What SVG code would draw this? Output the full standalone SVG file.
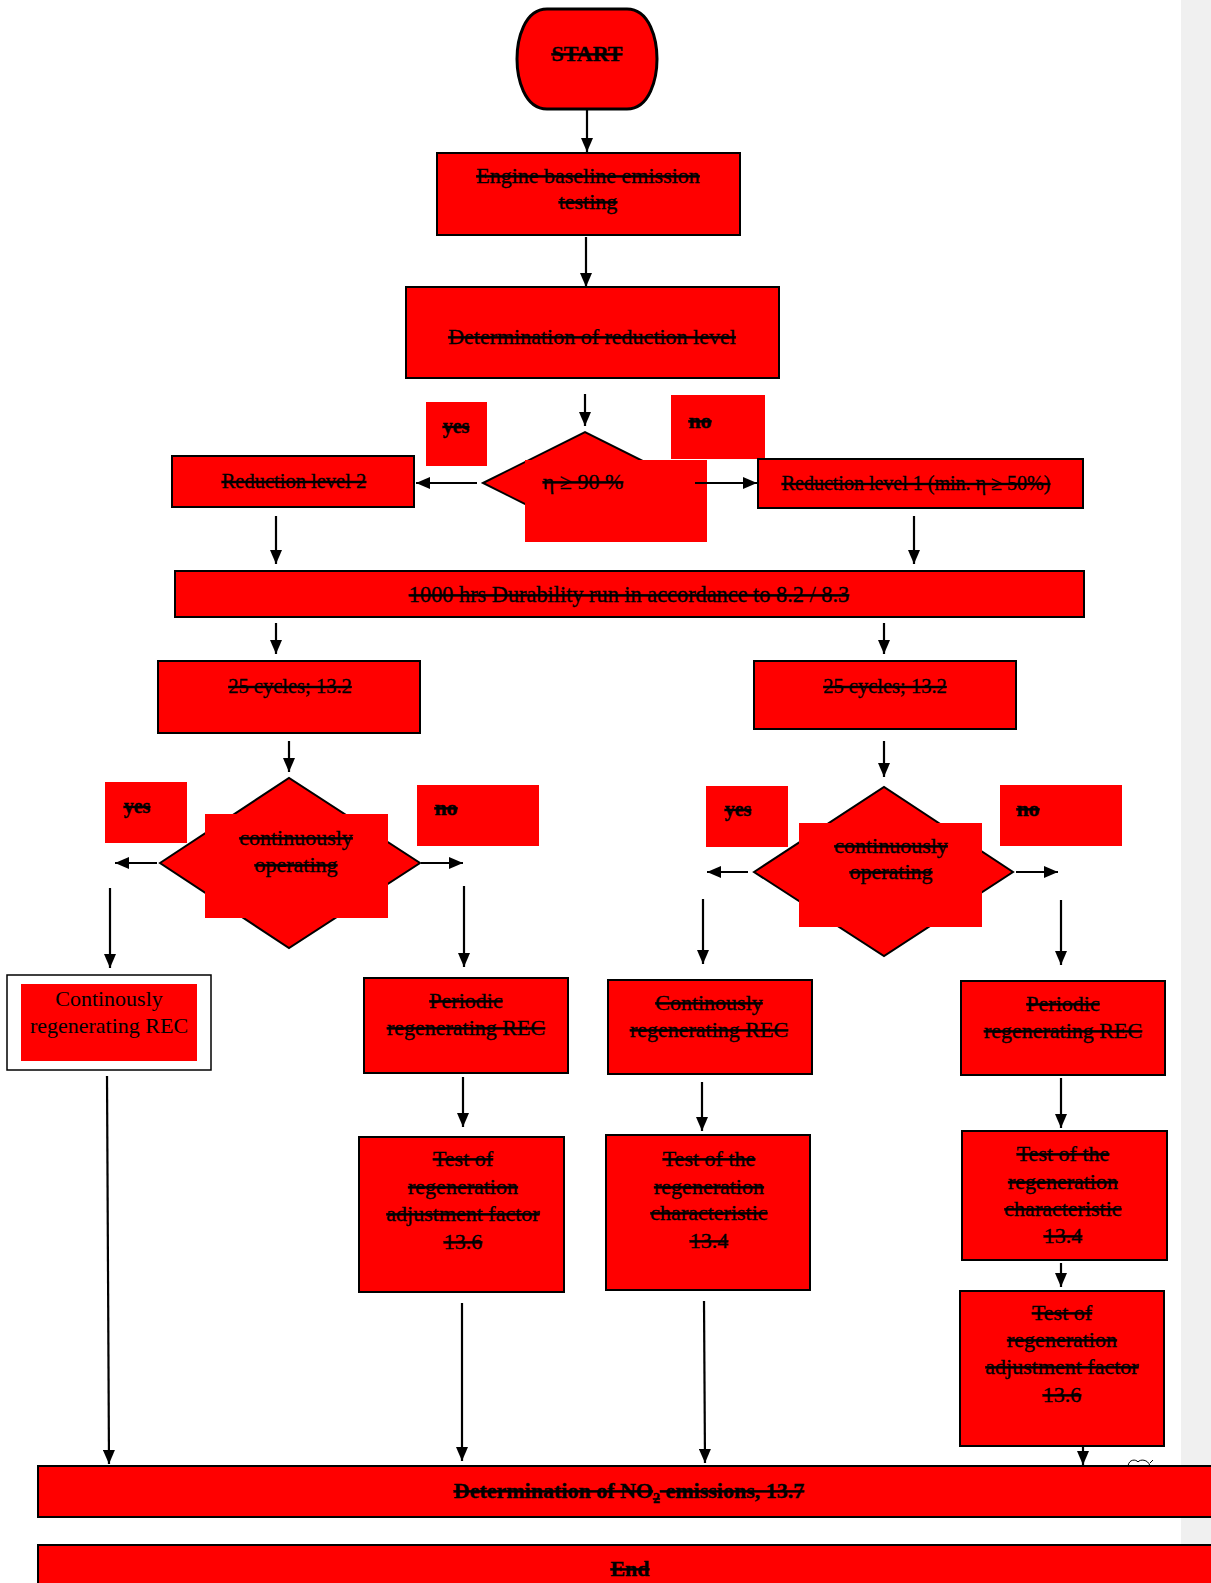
<svg xmlns="http://www.w3.org/2000/svg" width="1211" height="1583" viewBox="0 0 1211 1583">
<defs>
<style>
.bx{fill:#ff0000;stroke:#000;stroke-width:2}
.rf{fill:#ff0000;stroke:none}
.t{font-family:"Liberation Serif","Times New Roman",serif;font-size:22px;fill:#000;stroke:#000;stroke-width:0.35;text-anchor:middle;text-decoration:line-through}
.b{font-weight:bold}
.plain{text-decoration:none;stroke:none}
.c line{stroke:#000;stroke-width:2.2;marker-end:url(#ah)}
</style>
<marker id="ah" markerUnits="userSpaceOnUse" viewBox="0 0 14 12" markerWidth="14" markerHeight="12" refX="14" refY="6" orient="auto">
<path d="M0,0 L14,6 L0,12 Z" fill="#000"/>
</marker>
</defs>
<rect x="0" y="0" width="1211" height="1583" fill="#fff"/>
<rect x="1181" y="0" width="30" height="1583" fill="#f0f0f0"/>

<g id="start">
<path d="M547,9 H627 C650,9 657,40 657,59 C657,78 650,109 627,109 H547 C524,109 517,78 517,59 C517,40 524,9 547,9 Z" fill="#ff0000" stroke="#000" stroke-width="3"/>
<text class="t b" x="587" y="61">START</text>
</g>
<g id="engine">
<rect class="bx" x="437" y="153" width="303" height="82"/>
<text class="t" x="588" y="183">Engine baseline emission</text>
<text class="t" x="588" y="209">testing</text>
</g>
<g id="reduction">
<rect class="bx" x="406" y="287" width="373" height="91"/>
<text class="t" x="592" y="344">Determination of reduction level</text>
</g>
<g id="yes1"><rect class="rf" x="426" y="402" width="61" height="64"/><text class="t b" x="456" y="433" style="font-size:20px">yes</text></g>
<g id="no1"><rect class="rf" x="671" y="395" width="94" height="64"/><text class="t b" x="700" y="428">no</text></g>
<g id="eta">
<polygon points="483,483 585,432 687,483 585,534" fill="#ff0000" stroke="#000" stroke-width="2"/>
<rect class="rf" x="525" y="460" width="182" height="82"/>
<text class="t" x="583" y="489">η ≥ 90 %</text>
</g>
<g id="level2">
<rect class="bx" x="172" y="456" width="242" height="51"/>
<text class="t" x="294" y="488" style="font-size:20.5px">Reduction level  2</text>
</g>
<g id="level1">
<rect class="bx" x="758" y="459" width="325" height="49"/>
<text class="t" x="916" y="490" style="font-size:20px"> Reduction level 1 (min. η ≥ 50%)</text>
</g>
<g id="durability">
<rect class="bx" x="175" y="571" width="909" height="46"/>
<text class="t" x="629" y="602" style="font-size:22.3px">1000 hrs Durability run in accordance to 8.2 / 8.3</text>
</g>
<g id="cycles-left">
<rect class="bx" x="158" y="661" width="262" height="72"/>
<text class="t" x="290" y="693" style="font-size:20.5px">25 cycles; 13.2</text>
</g>
<g id="cycles-right">
<rect class="bx" x="754" y="661" width="262" height="68"/>
<text class="t" x="885" y="693" style="font-size:20.5px">25 cycles; 13.2</text>
</g>
<g id="yes-left"><rect class="rf" x="105" y="782" width="82" height="61"/><text class="t b" x="137" y="813" style="font-size:20px">yes</text></g>
<g id="no-left"><rect class="rf" x="417" y="785" width="122" height="61"/><text class="t b" x="446" y="815">no</text></g>
<g id="decision-left">
<polygon points="160,863 289,778 420,863 289,948" fill="#ff0000" stroke="#000" stroke-width="2"/>
<rect class="rf" x="205" y="814" width="183" height="104"/>
<text class="t" x="296" y="845">continuously</text>
<text class="t" x="296" y="872">operating</text>
</g>
<g id="yes-right"><rect class="rf" x="706" y="786" width="82" height="61"/><text class="t b" x="738" y="816" style="font-size:20px">yes</text></g>
<g id="no-right"><rect class="rf" x="1000" y="785" width="122" height="61"/><text class="t b" x="1028" y="816">no</text></g>
<g id="decision-right">
<polygon points="754,872 884,787 1013,872 884,956" fill="#ff0000" stroke="#000" stroke-width="2"/>
<rect class="rf" x="799" y="823" width="183" height="104"/>
<text class="t" x="891" y="853">continuously</text>
<text class="t" x="891" y="879">operating</text>
</g>
<g id="cont-left">
<rect x="7" y="975" width="204" height="95" fill="#fff" stroke="#000" stroke-width="1.5"/>
<rect class="rf" x="21" y="984" width="176" height="77"/>
<text class="t plain" x="109" y="1006">Continously</text>
<text class="t plain" x="109" y="1033">regenerating REC</text>
</g>
<g id="periodic-left">
<rect class="bx" x="364" y="978" width="204" height="95"/>
<text class="t" x="466" y="1008">Periodic</text>
<text class="t" x="466" y="1035">regenerating REC</text>
</g>
<g id="cont-mid">
<rect class="bx" x="608" y="980" width="204" height="94"/>
<text class="t" x="709" y="1010">Continously</text>
<text class="t" x="709" y="1037">regenerating REC</text>
</g>
<g id="periodic-right">
<rect class="bx" x="961" y="981" width="204" height="94"/>
<text class="t" x="1063" y="1011">Periodic</text>
<text class="t" x="1063" y="1038">regenerating REC</text>
</g>
<g id="adj-left">
<rect class="bx" x="359" y="1137" width="205" height="155"/>
<text class="t" x="463" y="1166">Test of</text>
<text class="t" x="463" y="1194">regeneration</text>
<text class="t" x="463" y="1221">adjustment factor</text>
<text class="t" x="463" y="1249">13.6</text>
</g>
<g id="char-mid">
<rect class="bx" x="606" y="1135" width="204" height="155"/>
<text class="t" x="709" y="1166">Test of the</text>
<text class="t" x="709" y="1194">regeneration</text>
<text class="t" x="709" y="1220">characteristic</text>
<text class="t" x="709" y="1248">13.4</text>
</g>
<g id="char-right">
<rect class="bx" x="962" y="1131" width="205" height="129"/>
<text class="t" x="1063" y="1161">Test of the</text>
<text class="t" x="1063" y="1189">regeneration</text>
<text class="t" x="1063" y="1216">characteristic</text>
<text class="t" x="1063" y="1243">13.4</text>
</g>
<g id="adj-right">
<rect class="bx" x="960" y="1291" width="204" height="155"/>
<text class="t" x="1062" y="1320">Test of</text>
<text class="t" x="1062" y="1347">regeneration</text>
<text class="t" x="1062" y="1374">adjustment factor</text>
<text class="t" x="1062" y="1402">13.6</text>
</g>
<g id="mark">
<path d="M1128,1466 C1129,1459 1136,1459 1138,1462 C1140,1459 1148,1459 1150,1466 M1150,1463 L1153,1460" fill="#fff" stroke="#000" stroke-width="1"/>
</g>
<g id="no2">
<rect class="bx" x="38" y="1466" width="1175" height="51"/>
<text class="t b" x="629" y="1498">Determination of NO<tspan font-size="14" dy="5">2</tspan><tspan dy="-5"> emissions, 13.7</tspan></text>
</g>
<g id="end">
<rect class="bx" x="38" y="1545" width="1175" height="45"/>
<text class="t b" x="630" y="1576">End</text>
</g>

<g id="connectors" class="c">
<line x1="587" y1="109" x2="587" y2="152"/>
<line x1="586" y1="237" x2="586" y2="287"/>
<line x1="585" y1="394" x2="585" y2="426"/>
<line x1="477" y1="483" x2="416" y2="483"/>
<line x1="695" y1="483" x2="757" y2="483"/>
<line x1="276" y1="516" x2="276" y2="564"/>
<line x1="914" y1="516" x2="914" y2="564"/>
<line x1="276" y1="623" x2="276" y2="654"/>
<line x1="884" y1="623" x2="884" y2="654"/>
<line x1="289" y1="741" x2="289" y2="772"/>
<line x1="884" y1="741" x2="884" y2="777"/>
<line x1="157" y1="863" x2="115" y2="863"/>
<line x1="421" y1="863" x2="463" y2="863"/>
<line x1="748" y1="872" x2="707" y2="872"/>
<line x1="1016" y1="872" x2="1058" y2="872"/>
<line x1="110" y1="888" x2="110" y2="968"/>
<line x1="464" y1="886" x2="464" y2="967"/>
<line x1="703" y1="899" x2="703" y2="964"/>
<line x1="1061" y1="900" x2="1061" y2="965"/>
<line x1="463" y1="1077" x2="463" y2="1127"/>
<line x1="702" y1="1082" x2="702" y2="1131"/>
<line x1="1061" y1="1078" x2="1061" y2="1128"/>
<line x1="1061" y1="1263" x2="1061" y2="1287"/>
<line x1="107" y1="1076" x2="109" y2="1464"/>
<line x1="462" y1="1303" x2="462" y2="1461"/>
<line x1="704" y1="1301" x2="705" y2="1463"/>
<line x1="1083" y1="1446" x2="1083" y2="1465"/>
</g>
</svg>
